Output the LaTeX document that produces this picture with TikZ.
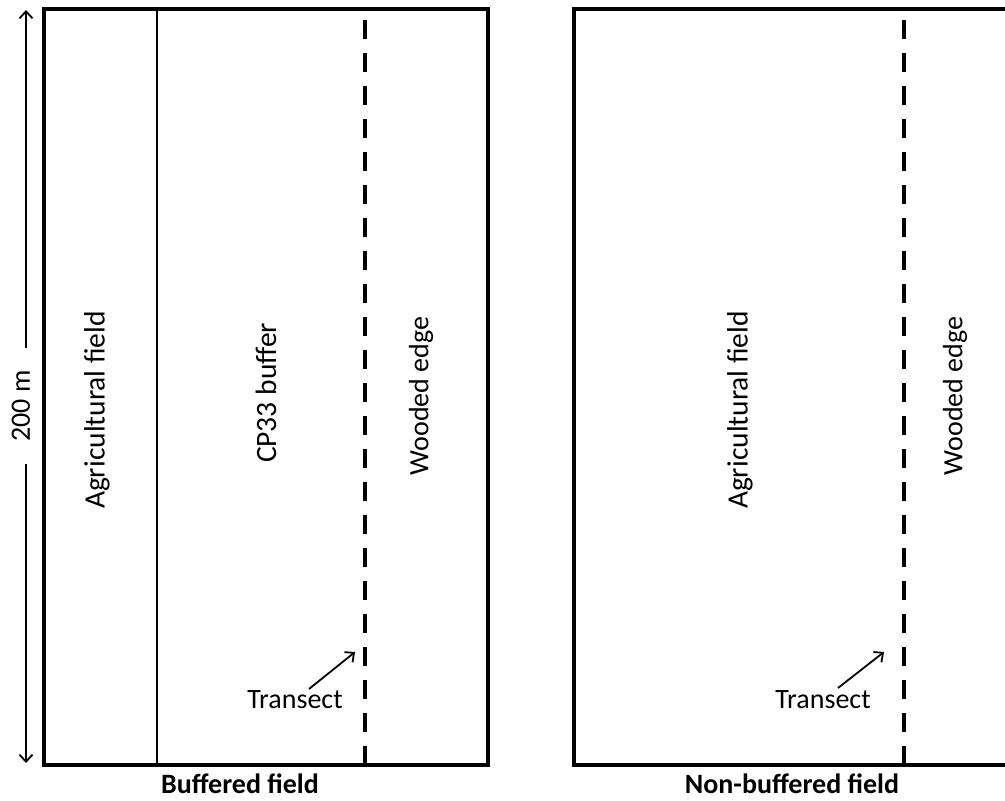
\documentclass[tikz,border=0pt]{standalone}
\usepackage{fontspec}
\setmainfont{Carlito}
\usetikzlibrary{arrows.meta}
\begin{document}
\begin{tikzpicture}[x=1pt,y=-1pt,
  frame/.style={line width=3.5pt},
  divider/.style={line width=1.6pt},
  transectline/.style={line width=4.5pt, dash pattern=on 19pt off 14pt},
  lbl/.style={font=\fontsize{28}{30}\selectfont, inner sep=0pt},
  vlbl/.style={lbl, rotate=90},
  biglbl/.style={font=\fontsize{29.5}{31}\selectfont, inner sep=0pt, rotate=90},
  titlelbl/.style={font=\bfseries\fontsize{28}{30}\selectfont, inner sep=0pt},
  ptr/.style={line width=1.8pt, -{Straight Barb[length=7pt,width=13pt]}},
  dimline/.style={line width=1.8pt, -{Straight Barb[length=7pt,width=13pt]}}]
\useasboundingbox (0,0) rectangle (1005,801);

% left panel (buffered field)
\coordinate (L-nw) at (44,9);
\coordinate (L-se) at (488,765);
\draw[frame] (L-nw) rectangle (L-se);
\coordinate (Ldiv-top) at (157,9);
\coordinate (Ldiv-bot) at (157,765);
\draw[divider] (Ldiv-top) -- (Ldiv-bot);
\coordinate (Ltr-bot) at (365,765);
\coordinate (Ltr-top) at (365,9);
\draw[transectline] (Ltr-bot) -- (Ltr-top);

\node[biglbl] (Lagri) at (97,410) {Agricultural field};
\node[biglbl] (Lbuf) at (266,393) {CP33 buffer};
\node[vlbl] (Lwood) at (421,396) {Wooded edge};
\node[lbl] (Ltrans) at (295,700) {Transect};
\coordinate (Larr-s) at (309,689);
\coordinate (Larr-e) at (355,652);
\draw[ptr] (Larr-s) -- (Larr-e);
\node[titlelbl] (Ltitle) at (240,784) {Buffered field};

% dimension
\node[vlbl] (dim) at (21,406) {200 m};
\coordinate (dim-a) at (26,348);
\coordinate (dim-top) at (26,10);
\coordinate (dim-b) at (26,464);
\coordinate (dim-bot) at (26,763);
\draw[dimline] (dim-a) -- (dim-top);
\draw[dimline] (dim-b) -- (dim-bot);

% right panel (non-buffered field)
\coordinate (R-ne) at (1010,9);
\coordinate (R-nw) at (574,9);
\coordinate (R-sw) at (574,765);
\coordinate (R-se) at (1010,765);
\draw[frame] (R-ne) -- (R-nw) -- (R-sw) -- (R-se);
\coordinate (Rtr-bot) at (904,765);
\coordinate (Rtr-top) at (904,9);
\draw[transectline] (Rtr-bot) -- (Rtr-top);

\node[biglbl] (Ragri) at (740,410) {Agricultural field};
\node[vlbl] (Rwood) at (955,396) {Wooded edge};
\node[lbl] (Rtrans) at (823,700) {Transect};
\coordinate (Rarr-s) at (838,688);
\coordinate (Rarr-e) at (884,652);
\draw[ptr] (Rarr-s) -- (Rarr-e);
\node[titlelbl] (Rtitle) at (792,784) {Non-buffered field};
\end{tikzpicture}
\end{document}
